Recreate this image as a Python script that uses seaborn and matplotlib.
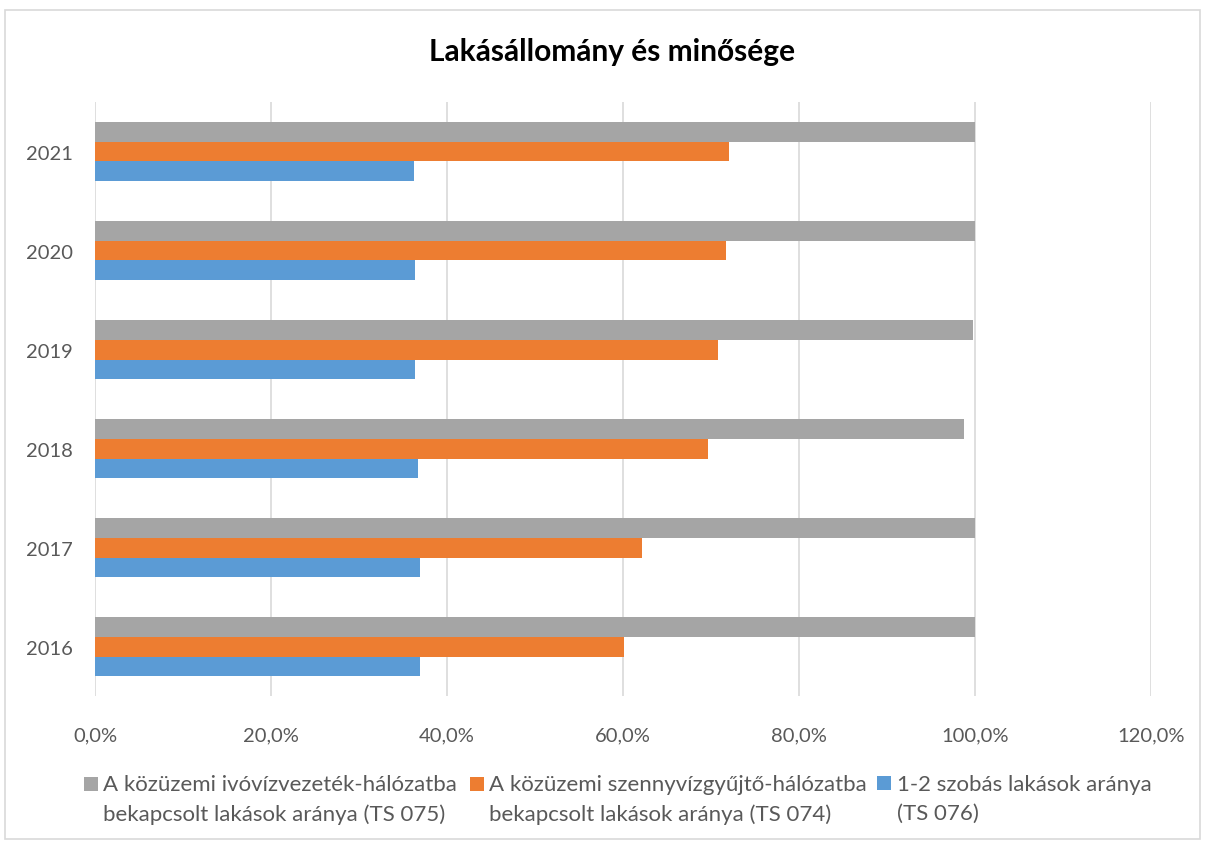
import pandas as pd
import matplotlib.pyplot as plt
import seaborn as sns
from matplotlib.ticker import FuncFormatter
from matplotlib.patches import Rectangle
from matplotlib.legend_handler import HandlerPatch

# Data (percent)
years = ['2021', '2020', '2019', '2018', '2017', '2016']
ivoviz = [100.0, 100.0, 99.8, 98.8, 100.0, 100.0]
szennyviz = [72.1, 71.7, 70.8, 69.7, 62.2, 60.1]
szobas = [36.2, 36.4, 36.4, 36.7, 36.9, 36.9]

series_names = [
    'A közüzemi ivóvízvezeték-hálózatba\nbekapcsolt lakások aránya (TS 075)',
    'A közüzemi szennyvízgyűjtő-hálózatba\nbekapcsolt lakások aránya (TS 074)',
    '1-2 szobás lakások aránya\n(TS 076)',
]
colors = ['#A5A5A5', '#ED7D31', '#5B9BD5']

df = pd.DataFrame({
    'Év': years * 3,
    'Érték': ivoviz + szennyviz + szobas,
    'Sorozat': [series_names[0]] * 6 + [series_names[1]] * 6 + [series_names[2]] * 6,
})

sns.set_style('white')
plt.rcParams['font.family'] = ['Lato', 'DejaVu Sans']

fig = plt.figure(figsize=(12.05, 8.45), dpi=100)
ax = fig.add_axes([0.079, 0.175, 0.876, 0.703])

sns.barplot(data=df, x='Érték', y='Év', hue='Sorozat', order=years,
            hue_order=series_names, palette=colors, orient='h',
            width=0.6, linewidth=0, saturation=1, ax=ax)

ax.set_xlim(0, 120)
ax.set_ylim(5.5, -0.5)
ax.set_xticks(range(0, 121, 20))
ax.xaxis.set_major_formatter(FuncFormatter(lambda v, p: f'{v:.1f}%'.replace('.', ',')))
ax.grid(axis='x', color='#D9D9D9', linewidth=1.2)
ax.set_axisbelow(True)
for s in ax.spines.values():
    s.set_visible(False)
ax.tick_params(axis='both', length=0, labelsize=14.5, colors='#595959')
ax.tick_params(axis='y', pad=16)
ax.tick_params(axis='x', pad=22)
ax.set_xlabel('')
ax.set_ylabel('')

fig.suptitle('Lakásállomány és minősége', x=0.508, y=0.955, fontsize=21.5,
             fontweight='bold', color='#000000')


# legend squares sit on the first text line, like in the spreadsheet legend
def top_square(legend, orig_handle, xdescent, ydescent, width, height, fontsize):
    side = 0.62 * fontsize
    return Rectangle((-xdescent, -ydescent + 0.72 * fontsize), side, side)


handles, labels = ax.get_legend_handles_labels()
ax.legend_.remove()
legend_x = [0.0697, 0.390, 0.728]
for h, lab, lx in zip(handles, labels, legend_x):
    leg = fig.legend([h], [lab], loc='upper left', bbox_to_anchor=(lx, 0.083),
                     frameon=False, fontsize=16, labelcolor='#595959',
                     handlelength=0.62, handletextpad=0.25, borderaxespad=0,
                     borderpad=0,
                     handler_map={Rectangle: HandlerPatch(patch_func=top_square)})
    for t in leg.get_texts():
        t.set_linespacing(1.55)

# light outer frame like the spreadsheet chart area
fig.patches.append(Rectangle((0.004, 0.006), 0.992, 0.981, transform=fig.transFigure,
                             fill=False, edgecolor='#D9D9D9', linewidth=1.2))

fig.savefig('out.png', dpi=100)
